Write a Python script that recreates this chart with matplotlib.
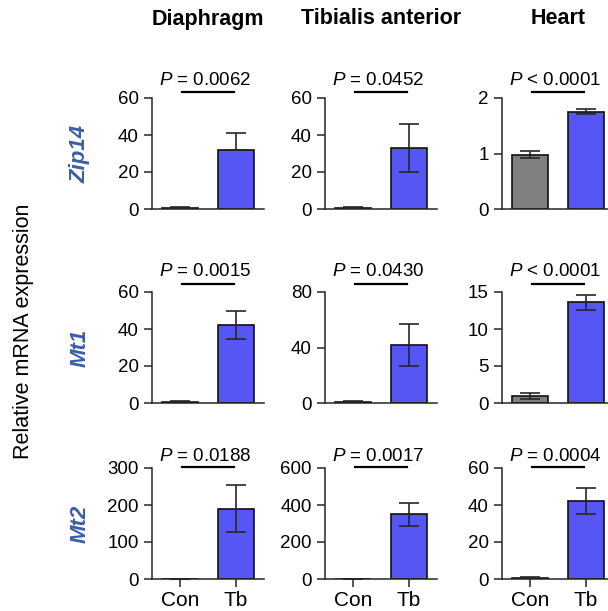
import matplotlib
matplotlib.use("Agg")
import matplotlib.pyplot as plt

plt.rcParams["font.family"] = ["Liberation Sans", "DejaVu Sans"]
plt.rcParams["mathtext.fontset"] = "custom"
plt.rcParams["mathtext.it"] = "Liberation Sans:italic"
plt.rcParams["mathtext.rm"] = "Liberation Sans"

# ---------------------------------------------------------------------------
# Data (rows = genes, columns = tissues)
# ---------------------------------------------------------------------------
tissues = ["Diaphragm", "Tibialis anterior", "Heart"]
genes = ["Zip14", "Mt1", "Mt2"]
groups = ["Con", "Tb"]

con_mean = [[0.8, 0.8, 0.98],
            [0.8, 0.9, 1.0],
            [0.6, 1.0, 0.7]]
con_err = [[0.2, 0.3, 0.06],
           [0.4, 0.5, 0.4],
           [0.3, 0.5, 0.3]]
tb_mean = [[32, 33, 1.75],
           [42.2, 42, 13.6],
           [190, 350, 42]]
tb_err_lo = [[0, 13, 0.03],
             [7.5, 15, 1.0],
             [64, 62, 7.0]]
tb_err_hi = [[9.3, 13, 0.06],
             [7.5, 15, 1.0],
             [64, 62, 7.3]]
p_labels = [["= 0.0062", "= 0.0452", "< 0.0001"],
            ["= 0.0015", "= 0.0430", "< 0.0001"],
            ["= 0.0188", "= 0.0017", "= 0.0004"]]
y_ticks = [[[0, 20, 40, 60], [0, 20, 40, 60], [0, 1, 2]],
           [[0, 20, 40, 60], [0, 40, 80], [0, 5, 10, 15]],
           [[0, 100, 200, 300], [0, 200, 400, 600], [0, 20, 40, 60]]]

# ---------------------------------------------------------------------------
# Layout (pixels, measured from the reference)
# ---------------------------------------------------------------------------
W, H = 608, 611
col_left = [152, 325, 502]
row_top = [98, 292, 468]
ax_w, ax_h = 112, 111
sig_off = [6, 8, 1]      # significance line above the axes top, px
txt_off = [13, 16, 7]    # p-value baseline above the axes top, px

TB_COLOR = "#5656F5"
CON_COLOR = "#808080"
LINE = "#262626"
GENE_COLOR = "#3B5EA6"

fig = plt.figure(figsize=(W / 100, H / 100), dpi=100)

for r in range(3):
    for c in range(3):
        left = col_left[c] / W
        bottom = (H - row_top[r] - ax_h) / H
        ax = fig.add_axes([left, bottom, ax_w / W, ax_h / H])

        x = [0, 1]
        means = [con_mean[r][c], tb_mean[r][c]]
        ax.bar(x, means, width=0.64, color=[CON_COLOR, TB_COLOR],
               edgecolor="#111111", linewidth=1.2, zorder=2)
        ax.errorbar([0], [con_mean[r][c]], yerr=[[con_err[r][c]], [con_err[r][c]]],
                    fmt="none", ecolor=LINE, elinewidth=1.2, capsize=7,
                    capthick=1.2, zorder=3)
        ax.errorbar([1], [tb_mean[r][c]],
                    yerr=[[tb_err_lo[r][c]], [tb_err_hi[r][c]]],
                    fmt="none", ecolor=LINE, elinewidth=1.2, capsize=7,
                    capthick=1.2, zorder=3)

        yt = y_ticks[r][c]
        ax.set_ylim(0, yt[-1])
        ax.set_yticks(yt)
        ax.set_xlim(-0.5, 1.5)
        for s in ("top", "right"):
            ax.spines[s].set_visible(False)
        for s in ("left", "bottom"):
            ax.spines[s].set_color(LINE)
            ax.spines[s].set_linewidth(1.1)
        ax.spines["bottom"].set_zorder(4)
        ax.tick_params(axis="y", length=5.5, width=1.1, color=LINE,
                       labelsize=13.5, pad=4)
        if r == 2:
            ax.set_xticks(x)
            ax.set_xticklabels(groups)
            ax.tick_params(axis="x", length=5.5, width=1.1, color=LINE,
                           labelsize=15, pad=3)
        else:
            ax.set_xticks([])

        # significance bar and p value
        ly = 1 + sig_off[r] / ax_h
        ax.plot([0.03, 0.97], [ly, ly], color="black", lw=1.6,
                transform=ax.get_xaxis_transform(), clip_on=False)
        ax.text(0.45, 1 + txt_off[r] / ax_h, "$P$ " + p_labels[r][c],
                transform=ax.get_xaxis_transform(), ha="center",
                va="baseline", fontsize=13.5)

# column titles
for c, name in enumerate(tissues):
    fig.text((col_left[c] + ax_w / 2) / W, 1 - 19 / H, name,
             ha="center", va="center", fontsize=15.5, fontweight="bold")

# gene labels
for r, g in enumerate(genes):
    fig.text(80 / W, 1 - (row_top[r] + ax_h / 2) / H, g, rotation=90,
             ha="center", va="center", fontsize=16, fontweight="bold",
             fontstyle="italic", color=GENE_COLOR)

fig.text(24 / W, 1 - 331 / H, "Relative mRNA expression", rotation=90,
         ha="center", va="center", fontsize=15.5)

fig.savefig("out.png", dpi=100)
